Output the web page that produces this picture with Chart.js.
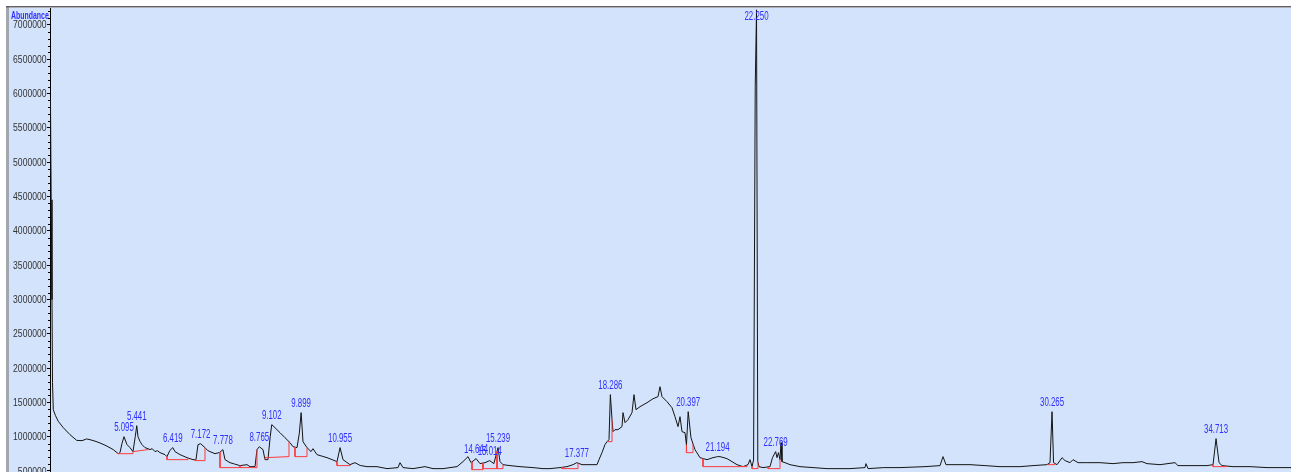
<!DOCTYPE html>
<html>
<head>
<meta charset="utf-8">
<title>TIC</title>
<script src="https://cdn.jsdelivr.net/npm/chart.js@4.4.1/dist/chart.umd.min.js"></script>
<style>
  html, body { margin: 0; padding: 0; background: #fff; overflow: hidden; width: 1291px; height: 472px; }
  #wrap { position: absolute; left: 0; top: 0; width: 1291px; height: 490px; }
</style>
</head>
<body>
<div id="wrap"><canvas id="tic" width="1291" height="490"></canvas></div>
<script>
// Total ion chromatogram: [retention time (min), abundance]
const signal = [
  [3.101, 5908e3], [3.120, 4452e3], [3.142, 2997e3], [3.156, 1787e3], [3.177, 1393e3],
  [3.237, 1306e3], [3.313, 1223e3], [3.449, 1131e3], [3.630, 1029e3], [3.812, 946e3],
  [3.956, 942e3], [4.083, 967e3], [4.173, 956e3], [4.308, 935e3], [4.444, 908e3],
  [4.607, 869e3], [4.805, 811e3], [4.940, 752e3], [4.986, 767e3], [5.040, 900e3],
  [5.095, 1000e3], [5.176, 884e3], [5.258, 840e3], [5.339, 782e3], [5.400, 1000e3],
  [5.441, 1160e3], [5.475, 1000e3], [5.530, 930e3], [5.583, 884e3], [5.664, 840e3],
  [5.746, 825e3], [5.800, 811e3], [5.860, 825e3], [5.936, 782e3], [6.000, 796e3],
  [6.071, 767e3], [6.207, 738e3], [6.261, 709e3], [6.340, 800e3], [6.419, 840e3],
  [6.478, 782e3], [6.614, 738e3], [6.803, 694e3], [6.966, 665e3], [7.048, 665e3],
  [7.102, 884e3], [7.172, 898e3], [7.292, 840e3], [7.360, 800e3], [7.427, 782e3],
  [7.563, 752e3], [7.690, 770e3], [7.778, 811e3], [7.834, 665e3], [7.970, 621e3],
  [8.100, 600e3], [8.241, 578e3], [8.431, 592e3], [8.512, 563e3], [8.648, 563e3],
  [8.702, 811e3], [8.765, 854e3], [8.865, 811e3], [8.919, 665e3], [9.000, 665e3],
  [9.060, 1000e3], [9.102, 1175e3], [9.190, 1131e3], [9.326, 1058e3], [9.462, 985e3],
  [9.597, 913e3], [9.679, 854e3], [9.787, 840e3], [9.850, 1050e3], [9.899, 1350e3],
  [9.950, 927e3], [10.058, 840e3], [10.167, 782e3], [10.221, 825e3], [10.329, 738e3],
  [10.470, 715e3], [10.601, 694e3], [10.740, 665e3], [10.872, 636e3], [10.955, 840e3],
  [11.035, 665e3], [11.224, 592e3], [11.360, 621e3], [11.500, 580e3], [11.686, 563e3],
  [11.957, 563e3], [12.228, 534e3], [12.526, 549e3], [12.581, 621e3], [12.662, 549e3],
  [12.933, 534e3], [13.257, 563e3], [13.476, 534e3], [13.747, 534e3], [13.937, 549e3],
  [14.127, 563e3], [14.289, 636e3], [14.425, 709e3], [14.506, 621e3], [14.644, 680e3],
  [14.750, 607e3], [14.886, 621e3], [15.014, 651e3], [15.127, 607e3], [15.239, 840e3],
  [15.293, 636e3], [15.374, 592e3], [15.564, 578e3], [15.835, 563e3], [16.188, 549e3],
  [16.459, 534e3], [16.649, 534e3], [16.920, 549e3], [17.110, 563e3], [17.273, 592e3],
  [17.377, 621e3], [17.517, 592e3], [17.733, 592e3], [17.924, 592e3], [17.978, 665e3],
  [18.059, 767e3], [18.140, 884e3], [18.195, 927e3], [18.249, 956e3], [18.286, 1612e3],
  [18.331, 1248e3], [18.358, 1073e3], [18.412, 1102e3], [18.493, 1102e3], [18.602, 1146e3],
  [18.629, 1350e3], [18.683, 1204e3], [18.765, 1248e3], [18.873, 1350e3], [18.927, 1612e3],
  [18.981, 1393e3], [19.090, 1437e3], [19.280, 1495e3], [19.443, 1553e3], [19.578, 1583e3],
  [19.632, 1728e3], [19.687, 1583e3], [19.822, 1510e3], [19.958, 1422e3], [20.039, 1291e3],
  [20.121, 1146e3], [20.175, 1291e3], [20.229, 1073e3], [20.311, 1058e3], [20.350, 880e3],
  [20.397, 1364e3], [20.472, 985e3], [20.581, 811e3], [20.717, 694e3], [20.907, 665e3],
  [21.069, 694e3], [21.194, 709e3], [21.260, 709e3], [21.449, 680e3], [21.721, 592e3],
  [21.884, 563e3], [22.019, 592e3], [22.073, 665e3], [22.128, 563e3], [22.170, 660e3],
  [22.215, 6100e3], [22.250, 7220e3], [22.285, 640e3], [22.317, 563e3], [22.426, 549e3],
  [22.616, 563e3], [22.683, 694e3], [22.769, 782e3], [22.806, 694e3], [22.846, 767e3],
  [22.887, 665e3], [22.914, 913e3], [22.941, 636e3], [23.022, 621e3], [23.158, 592e3],
  [23.429, 563e3], [23.784, 549e3], [24.162, 534e3], [24.515, 534e3], [24.785, 534e3],
  [25.192, 549e3], [25.219, 607e3], [25.274, 534e3], [25.700, 549e3], [26.141, 549e3],
  [26.820, 563e3], [27.227, 578e3], [27.308, 709e3], [27.389, 592e3], [28.040, 592e3],
  [28.450, 578e3], [28.853, 563e3], [29.396, 563e3], [29.748, 578e3], [30.128, 592e3],
  [30.210, 621e3], [30.265, 1364e3], [30.306, 621e3], [30.400, 592e3], [30.536, 694e3],
  [30.617, 651e3], [30.753, 621e3], [30.834, 665e3], [30.970, 621e3], [31.207, 621e3],
  [31.565, 621e3], [31.918, 607e3], [32.189, 621e3], [32.460, 621e3], [32.704, 636e3],
  [32.840, 607e3], [33.193, 592e3], [33.600, 621e3], [33.681, 578e3], [34.088, 578e3],
  [34.468, 578e3], [34.631, 592e3], [34.713, 971e3], [34.795, 621e3], [34.876, 578e3],
  [35.174, 563e3], [35.635, 563e3], [36.096, 549e3], [36.530, 549e3], [36.746, 549e3]
];

// Integrated peaks (retention times, min)
const peakTimes = [5.095, 5.441, 6.419, 7.172, 7.778, 8.765, 9.102, 9.899, 10.955, 14.644,
                   15.014, 15.239, 17.377, 18.286, 20.397, 21.194, 22.250, 22.769, 30.265, 34.713];

// Integration baselines for each peak: start/end time and level
const baseFrom      = [4.932, 5.339, 6.261, 7.021, 7.699, 8.241, 8.919, 9.733, 10.872, 14.533,
                       14.832, 15.212, 16.974, 18.195, 20.350, 20.799, 22.128, 22.562, 30.155, 34.631];
const baseTo        = [5.339, 5.746, 6.831, 7.292, 8.241, 8.702, 9.570, 10.058, 11.224, 14.832,
                       15.212, 15.374, 17.409, 18.331, 20.527, 21.992, 22.290, 22.887, 30.345, 35.011];
const baseFromLevel = [752e3, 782e3, 665e3, 651e3, 549e3, 549e3, 694e3, 709e3, 578e3, 519e3,
                       534e3, 534e3, 534e3, 927e3, 767e3, 563e3, 534e3, 534e3, 592e3, 563e3];
const baseToLevel   = [752e3, 811e3, 665e3, 651e3, 549e3, 549e3, 709e3, 709e3, 578e3, 519e3,
                       534e3, 534e3, 534e3, 927e3, 767e3, 563e3, 534e3, 534e3, 592e3, 563e3];

// Abundance axis
const yTickValues = [500000, 1000000, 1500000, 2000000, 2500000, 3000000, 3500000,
                     4000000, 4500000, 5000000, 5500000, 6000000, 6500000, 7000000];
const yMin = 485000, yMax = 7247000;
const tMin = 3.088, tMax = 36.746;

const SANS = "'Liberation Sans', Arial, sans-serif";

function signalAt(t) {
  for (let i = 1; i < signal.length; i++) {
    const [t0, v0] = signal[i - 1], [t1, v1] = signal[i];
    if (t >= t0 && t <= t1) return v0 + (v1 - v0) * (t - t0) / (t1 - t0);
  }
  return signal[signal.length - 1][1];
}

const baselineSets = peakTimes.map((_, i) => ({
  data: [
    { x: baseFrom[i], y: signalAt(baseFrom[i]) },
    { x: baseFrom[i], y: baseFromLevel[i] },
    { x: baseTo[i], y: baseToLevel[i] },
    { x: baseTo[i], y: signalAt(baseTo[i]) }
  ],
  borderColor: '#ff3b3b',
  borderWidth: 1,
  pointRadius: 0,
  tension: 0,
  order: 1
}));

// squeezed text, as the data system prints it
function narrowText(ctx, text, x, y, sx) {
  ctx.save();
  ctx.translate(x, y);
  ctx.scale(sx, 1);
  ctx.fillText(text, 0, 0);
  ctx.restore();
}

const frame = {
  id: 'frame',
  beforeDraw(chart) {
    const { ctx, width, height } = chart;
    ctx.save();
    ctx.fillStyle = '#ffffff';
    ctx.fillRect(0, 0, width, height);
    ctx.fillStyle = '#d3e3fb';
    ctx.fillRect(9, 8, width - 9, height - 8);
    ctx.fillStyle = '#a2a6ad';
    ctx.fillRect(6, 6, 3, height - 6);
    ctx.fillStyle = '#5f6166';
    ctx.fillRect(6, 6, width - 6, 1.5);
    ctx.restore();
  }
};

const axisText = {
  id: 'axisText',
  afterDraw(chart) {
    const { ctx } = chart;
    const y = chart.scales.y;
    const x0 = chart.chartArea.left;
    ctx.save();
    // minor ticks
    ctx.strokeStyle = '#000';
    ctx.lineWidth = 1;
    ctx.beginPath();
    for (let v = 500000; v <= yMax; v += 100000) {
      if (v % 500000 === 0) continue;
      const py = Math.round(y.getPixelForValue(v)) + 0.5;
      ctx.moveTo(x0 - 2, py);
      ctx.lineTo(x0, py);
    }
    ctx.stroke();
    // tick labels
    ctx.fillStyle = '#333333';
    ctx.font = '11px ' + SANS;
    ctx.textAlign = 'right';
    ctx.textBaseline = 'middle';
    yTickValues.forEach(v => narrowText(ctx, String(v), x0 - 3.5, y.getPixelForValue(v) + 0.5, 0.78));
    ctx.restore();
  }
};

const peakLabels = {
  id: 'peakLabels',
  afterDatasetsDraw(chart) {
    const { ctx } = chart;
    const xs = chart.scales.x, ys = chart.scales.y;
    ctx.save();
    ctx.fillStyle = '#2f2fff';
    ctx.font = '12.5px ' + SANS;
    ctx.textAlign = 'center';
    ctx.textBaseline = 'middle';
    peakTimes.forEach(t => {
      let apex = 0;
      signal.forEach(([st, sv]) => { if (Math.abs(st - t) <= 0.02 && sv > apex) apex = sv; });
      const px = xs.getPixelForValue(t);
      const py = Math.max(16.5, ys.getPixelForValue(apex) - 9);
      narrowText(ctx, t.toFixed(3), px, py, 0.63);
    });
    // axis title
    ctx.textAlign = 'left';
    ctx.textBaseline = 'alphabetic';
    ctx.font = 'bold 11px ' + SANS;
    narrowText(ctx, 'Abundance', 11, 18.5, 0.63);
    ctx.restore();
  }
};

new Chart(document.getElementById('tic'), {
  type: 'line',
  data: {
    datasets: [
      {
        data: signal.map(([t, v]) => ({ x: t, y: v })),
        borderColor: '#141414',
        borderWidth: 1,
        pointRadius: 0,
        tension: 0,
        order: 2
      },
      ...baselineSets
    ]
  },
  options: {
    responsive: false,
    animation: false,
    devicePixelRatio: 1,
    parsing: false,
    normalized: true,
    layout: { padding: { left: 0, top: 8, right: 0, bottom: 18 } },
    plugins: { legend: { display: false }, tooltip: { enabled: false } },
    scales: {
      x: { type: 'linear', min: tMin, max: tMax, display: false },
      y: {
        type: 'linear',
        min: yMin,
        max: yMax,
        afterFit(scale) { scale.width = 50; },
        afterBuildTicks(scale) { scale.ticks = yTickValues.map(v => ({ value: v })); },
        ticks: { display: false },
        grid: { drawOnChartArea: false, drawTicks: true, tickLength: 3, color: '#000' },
        border: { display: true, color: '#000', width: 1 }
      }
    }
  },
  plugins: [frame, axisText, peakLabels]
});
</script>
</body>
</html>
